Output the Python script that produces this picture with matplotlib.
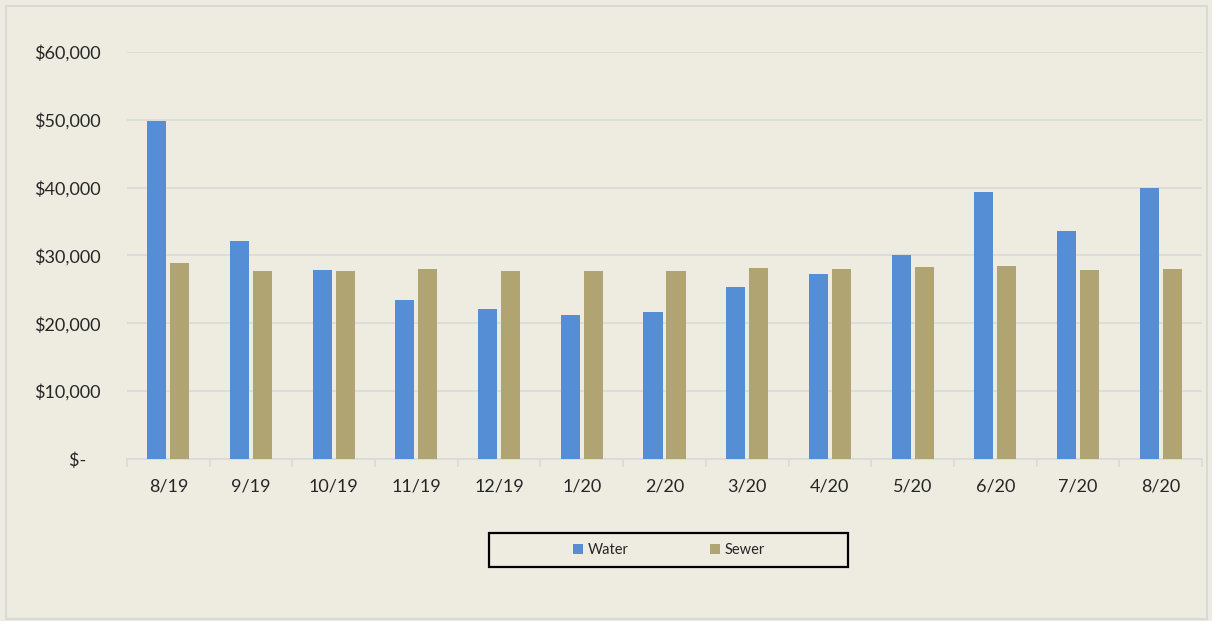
import numpy as np
import matplotlib.pyplot as plt
from matplotlib.patches import Rectangle
from matplotlib.ticker import FuncFormatter, FixedLocator

months = ["8/19", "9/19", "10/19", "11/19", "12/19", "1/20", "2/20",
          "3/20", "4/20", "5/20", "6/20", "7/20", "8/20"]
water = [49800, 32100, 27800, 23400, 22100, 21200, 21700,
         25400, 27300, 30000, 39400, 33600, 40000]
sewer = [28900, 27700, 27700, 28000, 27700, 27700, 27700,
         28200, 28000, 28300, 28500, 27900, 28000]

bg = "#EEECE1"
grid_col = "#D9D9D9"
txt = "#262626"

plt.rcParams["font.family"] = ["Lato", "DejaVu Sans"]

fig = plt.figure(figsize=(12.12, 6.21), dpi=100, facecolor=bg)
ax = fig.add_axes([127 / 1212, 1 - 459 / 621, 1075 / 1212, 407 / 621])
ax.set_facecolor(bg)

x = np.arange(len(months))
w = 0.23
off = 0.139
ax.bar(x - off, water, w, color="#558ED5", label="Water", zorder=3)
ax.bar(x + off, sewer, w, color="#B0A572", label="Sewer", zorder=3)

ax.set_xlim(-0.5, len(months) - 0.5)
ax.set_ylim(0, 60000)
ax.set_yticks(np.arange(0, 60001, 10000))


def money(v, pos):
    if v == 0:
        return "$-   "
    return "${:,.0f}".format(v)


ax.yaxis.set_major_formatter(FuncFormatter(money))
ax.grid(axis="y", color=grid_col, linewidth=1.2, zorder=0)
ax.set_xticks(x)
ax.set_xticklabels(months)
ax.xaxis.set_minor_locator(FixedLocator(np.arange(-0.5, len(months), 1.0)))

ax.tick_params(axis="x", which="major", length=0, pad=14, labelsize=13, labelcolor=txt)
ax.tick_params(axis="x", which="minor", length=6, width=1.2, color=grid_col)
ax.tick_params(axis="y", length=0, pad=19, labelsize=13, labelcolor=txt)

for s in ["top", "right", "left"]:
    ax.spines[s].set_visible(False)
ax.spines["bottom"].set_color(grid_col)
ax.spines["bottom"].set_linewidth(1.2)

# legend box and entries
leg = fig.legend(loc="center", bbox_to_anchor=(669 / 1212, 1 - 550 / 621),
                 ncol=2, frameon=False, fontsize=10.5, handlelength=0.7,
                 handleheight=0.7, handletextpad=0.3, columnspacing=5.6,
                 labelcolor=txt)
fig.patches.append(Rectangle((489 / 1212, 1 - 567 / 621), 359 / 1212, 34 / 621,
                             transform=fig.transFigure, fill=False,
                             edgecolor="black", linewidth=1.6))
# outer chart border
fig.patches.append(Rectangle((6 / 1212, 2 / 621), 1201 / 1212, 613 / 621,
                             transform=fig.transFigure, fill=False,
                             edgecolor=grid_col, linewidth=1.5))

fig.savefig("out.png", dpi=100, facecolor=bg)
